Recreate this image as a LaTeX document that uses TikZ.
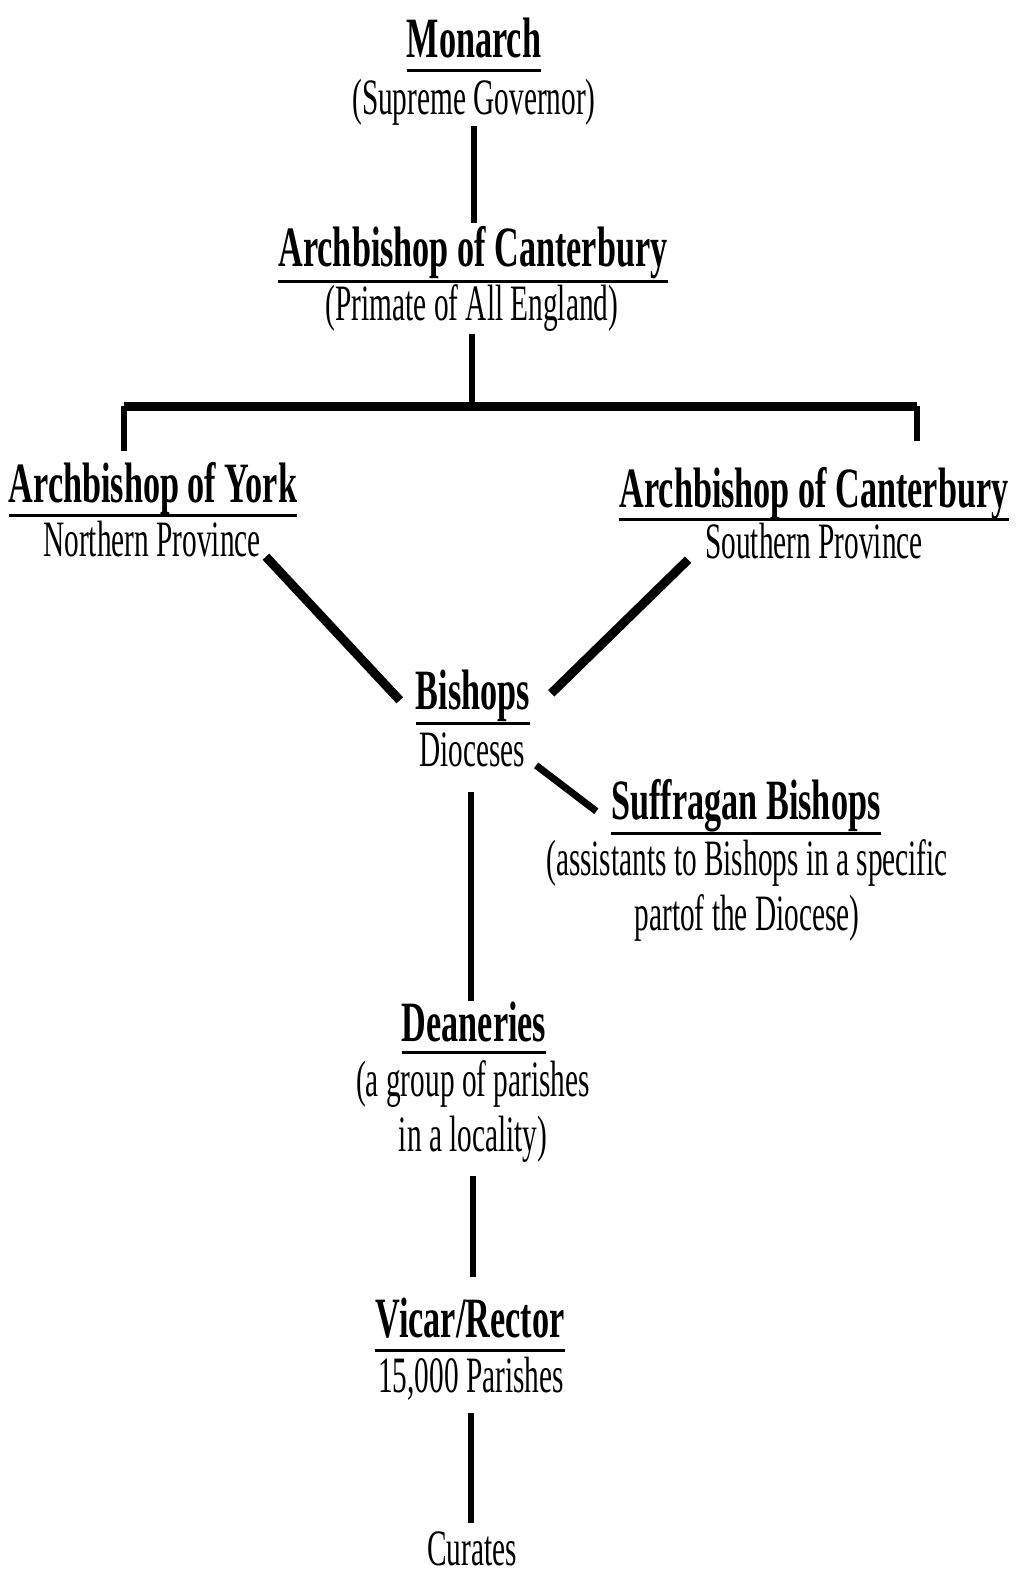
\documentclass[tikz,border=0pt]{standalone}
\usepackage{fontspec}
\newfontfamily\regf{Liberation Serif}[FakeStretch=0.575]
\newfontfamily\boldf{Liberation Serif}[FakeStretch=0.6]
\usetikzlibrary{calc}
\tikzset{
  ttl/.style={inner sep=0pt, anchor=base, font=\boldf\bfseries\fontsize{57}{60}\selectfont},
  sub/.style={inner sep=0pt, anchor=base, align=center, font=\regf\fontsize{51}{55}\selectfont},
  conn/.style={line width=6pt, line cap=butt},
  barline/.style={line width=9pt},
  diag/.style={line width=9pt},
  uline/.style={line width=3pt},
}
\begin{document}
\begin{tikzpicture}[x=1pt,y=-1pt]
\fill[white] (0,0) rectangle (1016,1576);
\useasboundingbox (0,0) rectangle (1016,1576);
% nodes
\node[ttl] (monarch) at (474,58) {Monarch};
\node[sub] (gov) at (474,115) {(Supreme Governor)};
\node[ttl] (abc) at (473,266) {Archbishop of Canterbury};
\node[sub] (primate) at (472,320) {(Primate of All England)};
\node[ttl] (york) at (153,502) {Archbishop of York};
\node[sub] (northp) at (152,556) {Northern Province};
\node[ttl] (cant) at (814,507) {Archbishop of Canterbury};
\node[sub] (southp) at (814,558) {Southern Province};
\node[ttl] (bishops) at (473,709) {Bishops};
\node[sub] (dioc) at (472,766) {Dioceses};
\node[ttl] (suff) at (746,819) {Suffragan Bishops};
\node[sub] (suffsub) at (747,930) {(assistants to Bishops in a specific\\partof the Diocese)};
\node[ttl] (dean) at (474,1041) {Deaneries};
\node[sub] (deansub) at (473,1151) {(a group of parishes\\in a locality)};
\node[ttl] (vicar) at (470,1337) {Vicar/Rector};
\node[sub] (parishes) at (471,1392) {15,000 Parishes};
\node[sub] (curates) at (472,1565) {Curates};
% underlines
\foreach \n/\d in {monarch/13, abc/15, york/13, cant/12, bishops/14, suff/14, dean/11, vicar/13}
  {\draw[uline] ($(\n.base west)+(0,\d)$) -- ($(\n.base east)+(0,\d)$);}
% connectors
\coordinate (barL) at (124,406);
\coordinate (barR) at (917,406);
\draw[conn] (gov.south) -- ($(gov.south |- abc.north)+(0,-3)$);
\draw[conn] ($(primate.south)+(0,3)$) -- (primate.south |- barL);
\draw[barline] (barL) -- (barR);
\draw[conn] (barL) -- ($(barL |- york.north)+(0,-11)$);
\draw[conn] (barR) -- ($(barR |- cant.north)+(0,-26)$);
\draw[diag] ($(northp.south east)+(5,0)$) -- ($(bishops.west)+(-16,5)$);
\draw[diag] ($(southp.south west)+(-17,1)$) -- ($(bishops.east)+(21,-2)$);
\draw[line width=7pt] ($(dioc.east)+(11,16)$) -- ($(suff.west)+(-15,6)$);
\draw[conn] ($(dioc.south)+(-1,25)$) -- ($(dioc.south |- dean.north)+(-1,0)$);
\draw[conn] ($(deansub.south)+(0,14)$) -- ($(deansub.south |- vicar.north)+(0,-20)$);
\draw[conn] ($(parishes.south)+(0,13)$) -- ($(parishes.south |- curates.north)+(0,-8)$);
\end{tikzpicture}
\end{document}
